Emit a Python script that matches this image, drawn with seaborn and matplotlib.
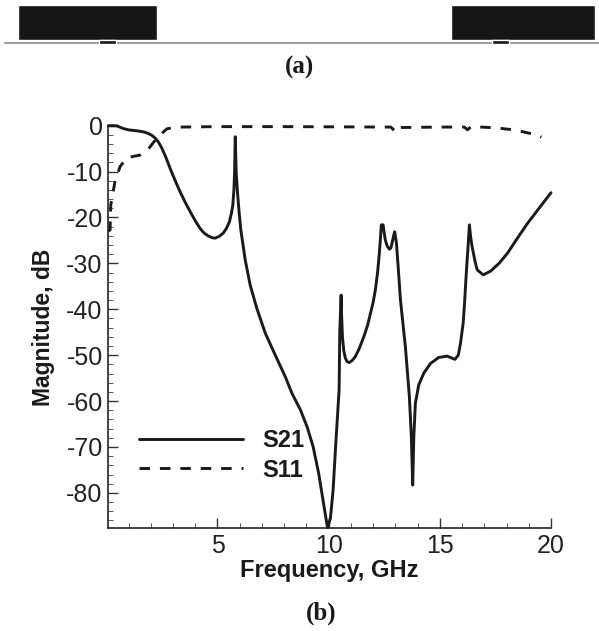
import matplotlib
matplotlib.use('Agg')
import matplotlib.pyplot as plt
from matplotlib.ticker import MultipleLocator
import pandas as pd
import seaborn as sns

# S21 curve
s21_freq = [0.09, 0.46, 0.75, 0.99, 1.25, 1.5, 1.72, 1.89, 2.05, 2.2, 2.35, 2.5, 2.68, 2.87, 3.1, 3.32, 3.55, 3.77, 4.0,
            4.22, 4.4, 4.58, 4.75, 4.9, 5.08, 5.26, 5.4, 5.54, 5.63, 5.69, 5.74, 5.77, 5.8, 5.84, 5.9, 5.97, 6.05,
            6.25, 6.47, 6.77, 7.15, 7.6, 8.05, 8.35, 8.73, 9.03, 9.3, 9.55, 9.77, 9.95, 10.08, 10.2, 10.33, 10.47,
            10.5, 10.56, 10.58, 10.62, 10.68, 10.75, 10.83, 10.93, 11.05, 11.2, 11.38, 11.58, 11.75, 11.88, 12.0, 12.1, 12.2, 12.28, 12.33,
            12.37, 12.45, 12.5, 12.55, 12.63, 12.73, 12.8, 12.85, 12.92, 12.97, 13.05, 13.13, 13.23, 13.45, 13.63, 13.72, 13.78,
            13.83, 13.9, 14.05, 14.28, 14.58, 14.95, 15.33, 15.68, 15.83, 15.93, 16.05,
            16.12, 16.19, 16.26, 16.33, 16.38, 16.44, 16.5, 16.58, 16.68, 16.95, 17.28, 17.66, 18.04, 18.49, 18.94, 19.46, 20.0]
s21_db = [0, 0, -0.6, -0.9, -1.05, -1.2, -1.4, -1.7, -2.1, -2.7, -3.6, -4.9, -6.9, -9.3, -12, -14.4, -16.7, -18.7, -20.7,
          -22.4, -23.4, -24, -24.4, -24.5, -24.1, -23.4, -22.4, -20.9, -19, -17.3, -14, -10, -2.4, -10, -14.5, -18.7, -22.7,
          -29.3, -34.7, -39.8, -45.2, -50, -54.7, -58.3, -61.9, -65.6, -69.9, -75.7, -82.3, -87.6, -85.5, -79.4, -68.5, -57.6,
          -45, -36.9, -41, -46, -49, -50.6, -51.4, -51.6, -51.2, -50.3, -48.5, -46, -43.5, -40.9, -38.5, -35.8, -32, -27.8, -24.5,
          -21.6, -21.6, -23.4, -24.9, -26.2, -26.9, -26.6, -25.6, -24, -23.1, -25.6, -31, -38, -48.1, -59, -67.8, -78.3,
          -67.8, -60.5, -56.5, -53.9, -51.8, -50.5, -50.2, -50.9, -50, -47.4, -43,
          -38, -32.1, -27, -21.6, -24, -26, -27.5, -29.5, -31.4, -32.5, -31.7, -30, -27.8, -24.5, -21.3, -18, -14.6]

# S11 curve
s11_freq = [0.1, 0.17, 0.2, 0.39, 0.62, 0.92, 1.2, 1.52, 1.89, 2.27, 2.72, 3.0, 3.3, 5.0, 8.0, 12.8, 13.0, 13.1, 15.0,
            16.1, 16.25, 16.4, 17.5, 18.4, 19.35, 19.57]
s11_db = [-23, -22.7, -17.3, -12.2, -8.9, -7, -6.7, -6.4, -5.1, -2.7, -0.7, -0.4, -0.3, -0.2, -0.2, -0.3, -1.3, -0.4, -0.3,
          -0.3, -0.9, -0.2, -0.45, -0.95, -2, -2.5]

# schematic in panel (a), in image pixels
block_left = [18, 451]
block_width = [139, 144]
foot_left = [99, 492]
foot_width = [17, 17]

W, H = 599, 631
dark = '#1a1a1a'

sns.set_style('white')
plt.rcParams['font.family'] = ['Liberation Sans']
plt.rcParams['axes.unicode_minus'] = False

fig = plt.figure(figsize=(W / 100, H / 100), dpi=100)

# panel (a)
top = fig.add_axes([0, 0, 1, 1])
top.set_xlim(0, W)
top.set_ylim(H, 0)
top.axis('off')
top.plot([5, W], [43.3, 43.3], color='#a0a0a0', lw=1.5, zorder=1)
top.bar(block_left, [35, 35], width=block_width, bottom=5, align='edge', color='#161616', zorder=2)
top.bar(foot_left, [4, 4], width=foot_width, bottom=40, align='edge', color='#161616', zorder=2)
top.text(299, 67, '(a)', family='Liberation Serif', weight='bold', fontsize=18,
         ha='center', va='center', color=dark)
top.text(321, 613, '(b)', family='Liberation Serif', weight='bold', fontsize=18,
         ha='center', va='center', color=dark)

# panel (b)
ax = fig.add_axes([108.3 / W, 1 - 528 / H, (551 - 108.3) / W, (528 - 125.7) / H])
ax.patch.set_alpha(0)

df21 = pd.DataFrame({'freq': s21_freq, 'db': s21_db})
df11 = pd.DataFrame({'freq': s11_freq, 'db': s11_db})
sns.lineplot(data=df21, x='freq', y='db', ax=ax, color=dark, lw=2.1, estimator=None, sort=False,
             label='S21', clip_on=False)
sns.lineplot(data=df11, x='freq', y='db', ax=ax, color=dark, lw=2.1, estimator=None, sort=False,
             label='S11', dashes=(3.6, 3.4), clip_on=False)

ax.set_xlim(0.09, 20)
ax.set_ylim(-87.65, 0)
ax.xaxis.set_major_locator(MultipleLocator(5))
ax.xaxis.set_minor_locator(MultipleLocator(1))
ax.yaxis.set_major_locator(MultipleLocator(10))
ax.yaxis.set_minor_locator(MultipleLocator(2))
ax.tick_params(which='major', direction='in', length=7, width=1.0, color='#333333',
               labelsize=18, labelcolor='#222222', bottom=True, left=True, pad=4)
ax.tick_params(which='minor', direction='in', length=3.5, width=0.7, color='#555555', bottom=True, left=True)

for side in ['top', 'right']:
    ax.spines[side].set_visible(False)
for side in ['left', 'bottom']:
    ax.spines[side].set_linewidth(1.2)
    ax.spines[side].set_color('#222222')

ax.set_xlabel('Frequency, GHz', fontsize=17, weight='bold', color=dark, labelpad=1)
ax.set_ylabel('Magnitude, dB', fontsize=16.5, weight='bold', color=dark, labelpad=8)

leg = ax.legend(loc='lower left', bbox_to_anchor=(0.07, 0.115), frameon=False,
                handlelength=4.4, handletextpad=0.8, labelspacing=0.28, borderaxespad=0, borderpad=0,
                prop={'weight': 'bold', 'size': 17})
for t in leg.get_texts():
    t.set_color(dark)

fig.savefig('out.png', dpi=100)
